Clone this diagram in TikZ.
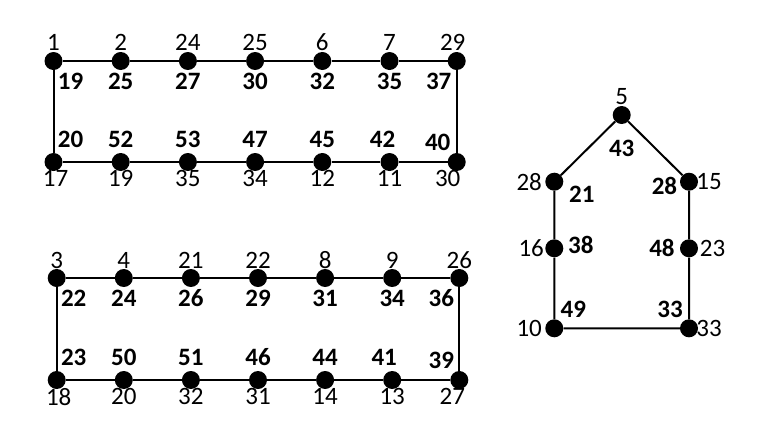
\documentclass[tikz,border=0pt]{standalone}
\usepackage{fontspec}
\setmainfont{Carlito}
\usepackage{tikz}
\usetikzlibrary{positioning}

\begin{document}
\begin{tikzpicture}[x=1pt, y=-1pt]
  % Define styles
  \tikzstyle{dot} = [circle, fill=black, inner sep=0pt, minimum size=18pt]
  \tikzstyle{num} = [font=\fontsize{25}{25}\selectfont, inner sep=0pt]
  \tikzstyle{wt} = [font=\bfseries\fontsize{25}{25}\selectfont, inner sep=0pt]
  \tikzstyle{edge} = [line width=2pt]

  \useasboundingbox (0,0) rectangle (761,432);

  % First ring, top row
  \node [dot, label={[num,label distance=1pt]above:1}, label={[wt,label distance=2.5pt,xshift=17pt]below:19}] (a1) at (53.5,61) {};
  \node [dot, label={[num,label distance=1pt]above:2}, label={[wt,label distance=2.5pt]below:25}] (a2) at (120.7,61) {};
  \node [dot, label={[num,label distance=1pt]above:24}, label={[wt,label distance=2.5pt]below:27}] (a3) at (187.9,61) {};
  \node [dot, label={[num,label distance=1pt]above:25}, label={[wt,label distance=2.5pt]below:30}] (a4) at (255.1,61) {};
  \node [dot, label={[num,label distance=1pt]above:6}, label={[wt,label distance=2.5pt]below:32}] (a5) at (322.3,61) {};
  \node [dot, label={[num,label distance=1pt]above:7}, label={[wt,label distance=2.5pt]below:35}] (a6) at (389.5,61) {};
  \node [dot, label={[num,label distance=1pt,xshift=-4pt]above:29}, label={[wt,label distance=2.5pt,xshift=-18pt]below:37}] (a7) at (456.7,61) {};

  % First ring, bottom row
  \node [dot, label={[num,label distance=-1pt,xshift=2pt]below:17}, label={[wt,label distance=5pt,xshift=17pt]above:20}] (a8) at (53.5,162) {};
  \node [dot, label={[num,label distance=-1pt]below:19}, label={[wt,label distance=5pt]above:52}] (a9) at (120.7,162) {};
  \node [dot, label={[num,label distance=-1pt]below:35}, label={[wt,label distance=5pt]above:53}] (a10) at (187.9,162) {};
  \node [dot, label={[num,label distance=-1pt]below:34}, label={[wt,label distance=5pt]above:47}] (a11) at (255.1,162) {};
  \node [dot, label={[num,label distance=-1pt]below:12}, label={[wt,label distance=5pt]above:45}] (a12) at (322.3,162) {};
  \node [dot, label={[num,label distance=-1pt]below:11}, label={[wt,label distance=5pt,xshift=-7pt]above:42}] (a13) at (389.5,162) {};
  \node [dot, label={[num,label distance=-1pt,xshift=-9pt]below:30}, label={[wt,label distance=2pt,xshift=-19pt]above:40}] (a14) at (456.7,162) {};

  % Second ring, top row
  \node [dot, label={[num,label distance=0pt]above:3}, label={[wt,label distance=2.5pt,xshift=17pt]below:22}] (b1) at (56.7,278) {};
  \node [dot, label={[num,label distance=0pt]above:4}, label={[wt,label distance=2.5pt]below:24}] (b2) at (123.8,278) {};
  \node [dot, label={[num,label distance=0pt]above:21}, label={[wt,label distance=2.5pt]below:26}] (b3) at (190.9,278) {};
  \node [dot, label={[num,label distance=0pt]above:22}, label={[wt,label distance=2.5pt]below:29}] (b4) at (258,278) {};
  \node [dot, label={[num,label distance=0pt]above:8}, label={[wt,label distance=2.5pt]below:31}] (b5) at (325.1,278) {};
  \node [dot, label={[num,label distance=0pt]above:9}, label={[wt,label distance=2.5pt]below:34}] (b6) at (392.2,278) {};
  \node [dot, label={[num,label distance=0pt]above:26}, label={[wt,label distance=2.5pt,xshift=-18pt]below:36}] (b7) at (459.3,278) {};

  % Second ring, bottom row
  \node [dot, label={[num,label distance=-1pt,xshift=2pt]below:18}, label={[wt,label distance=5pt,xshift=17pt]above:23}] (b8) at (56.7,380) {};
  \node [dot, label={[num,label distance=-1pt]below:20}, label={[wt,label distance=5pt]above:50}] (b9) at (123.8,380) {};
  \node [dot, label={[num,label distance=-1pt]below:32}, label={[wt,label distance=5pt]above:51}] (b10) at (190.9,380) {};
  \node [dot, label={[num,label distance=-1pt]below:31}, label={[wt,label distance=5pt]above:46}] (b11) at (258,380) {};
  \node [dot, label={[num,label distance=-1pt]below:14}, label={[wt,label distance=5pt]above:44}] (b12) at (325.1,380) {};
  \node [dot, label={[num,label distance=-1pt]below:13}, label={[wt,label distance=5pt,xshift=-8pt]above:41}] (b13) at (392.2,380) {};
  \node [dot, label={[num,label distance=-1pt,xshift=-7pt]below:27}, label={[wt,label distance=2pt,xshift=-18pt]above:39}] (b14) at (459.3,380) {};

  % House
  \node [dot, label={[num,label distance=1pt]above:5}, label={[wt,label distance=16pt]below:43}] (h1) at (621.7,115) {};
  \node [dot, label={[num,label distance=3pt]left:28}, label={[wt,label distance=5.5pt,yshift=-13pt]right:21}] (h2) at (554.3,181.7) {};
  \node [dot, label={[num,label distance=-2pt]right:15}, label={[wt,label distance=2.5pt,yshift=-4pt]left:28}] (h3) at (689,181.7) {};
  \node [dot, label={[num,label distance=1pt]left:16}, label={[wt,label distance=4.5pt,yshift=3pt]right:38}] (h4) at (554.3,248.3) {};
  \node [dot, label={[num,label distance=1.5pt]right:23}, label={[wt,label distance=5pt]left:48}] (h5) at (689,248.3) {};
  \node [dot, label={[num,label distance=3pt]left:10}, label={[wt,label distance=1pt,xshift=19pt]above:49}] (h6) at (554.3,328.3) {};
  \node [dot, label={[num,label distance=-2pt]right:33}, label={[wt,label distance=1pt,xshift=-19pt]above:33}] (h7) at (689,328.3) {};

  % Edges
  \draw [edge] (a1) -- (a2) -- (a3) -- (a4) -- (a5) -- (a6) -- (a7) -- (a14)
    -- (a13) -- (a12) -- (a11) -- (a10) -- (a9) -- (a8) -- (a1);
  \draw [edge] (b1) -- (b2) -- (b3) -- (b4) -- (b5) -- (b6) -- (b7) -- (b14)
    -- (b13) -- (b12) -- (b11) -- (b10) -- (b9) -- (b8) -- (b1);
  \draw [edge] (h1) -- (h3) -- (h5) -- (h7) -- (h6) -- (h4) -- (h2) -- (h1);

\end{tikzpicture}
\end{document}
